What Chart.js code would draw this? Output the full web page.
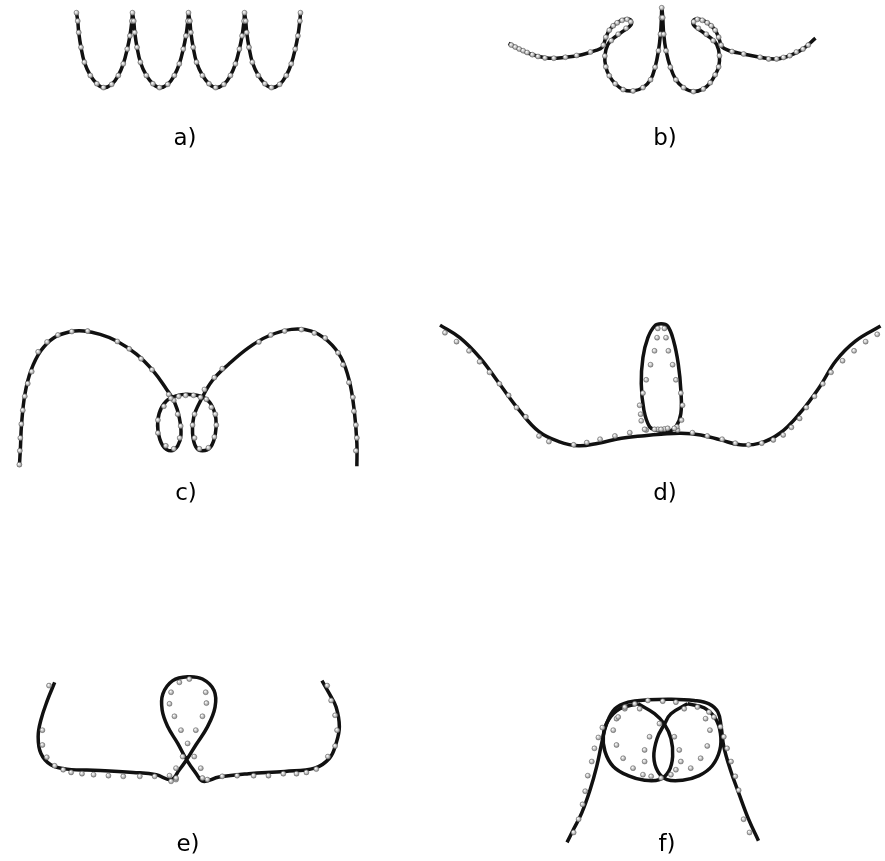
<!DOCTYPE html>
<html>
<head>
<meta charset="utf-8">
<script src="https://cdn.jsdelivr.net/npm/chart.js@4/dist/chart.umd.min.js"></script>
<style>
  html, body { margin: 0; padding: 0; background: #fff; }
  #wrap { position: relative; width: 885px; height: 861px; }
  #plot { position: absolute; left: 0; top: 0; }
  .lbl { position: absolute; width: 100px; text-align: center; font-family: "DejaVu Sans", sans-serif;
         font-size: 23px; line-height: 23px; color: #000; }
</style>
</head>
<body>
<div id="wrap">
  <canvas id="plot" width="885" height="861"></canvas>
</div>
<script>
// Panel labels and where each one sits (centre x, top y)
const panelLabels = ["a)", "b)", "c)", "d)", "e)", "f)"];
const labelX = [185, 665, 186, 665, 188, 667];
const labelY = [125.5, 125.5, 481, 481, 832, 832];

// a) chain of four U-shaped arches
const curveA = [
  [72.7,8.3],[74,16.7],[75,28.3],[77.3,43.3],[80.7,58.3],[86.7,71.7],[93.3,80],[100,84],[108.3,80.7],[115,71.7],[120,60],[124,45],[126.7,31.7],[128.7,16.7],[129.3,8.3],
  [130.6,16.7],[131.6,28.3],[133.9,43.3],[137.3,58.3],[143.3,71.7],[149.9,80],[156.6,84],[164.9,80.7],[171.6,71.7],[176.6,60],[180.6,45],[183.3,31.7],[185.3,16.7],[185.9,8.3],
  [187.3,16.7],[188.3,28.3],[190.6,43.3],[194,58.3],[200,71.7],[206.6,80],[213.3,84],[221.6,80.7],[228.3,71.7],[233.3,60],[237.3,45],[240,31.7],[242,16.7],[242.5,8.3],
  [243.7,16.7],[244.7,28.3],[247,43.3],[250.4,58.3],[256.4,71.7],[263,80],[269.7,84],[278,80.7],[284.7,71.7],[289.7,60],[293.7,45],[296.4,31.7],[298.4,16.7],[299,8.3]
];

// b) two hanging loops with curled side tails
const curveB = [
  [509.3,39.3],[520,45],[533.3,50.7],[550,54.3],[566.7,53.3],[583.3,50.7],[596.7,46.7],[604,43],[607,35],[611,26],[618,19],[626,15],[632.5,15.5],
  [633,20.5],[625,27],[616,33.5],[609.5,40.5],[606.5,52],[607.5,63],[611,72],[617,80],[625,86],[635,87.3],[645,84],[652.7,76],[657.3,63.3],[660.7,46.7],
  [662.7,30],[663.7,13.3],[664,3.3],[665,13.3],[666,30],[668.3,46.7],[672.7,63.3],[678.3,76],[686,84],[696,88],[706,85.3],[713,79],[718,71],[721.5,63],
  [722.3,51.7],[719.5,40.5],[713,33.5],[704,27],[696,20.5],[696.5,15.5],[703,15],[711,19],[718,26],[722,35],[725,43],[733.3,47],[746.7,50],
  [763.3,53.3],[780,55],[793.3,51.7],[806.7,45],[819.3,34]
];
const dotsB = [
  [512,41],[516,43],[520,45],[524,46.7],[528,48.5],[533.3,50.7],[539,52.5],[546,54],[555,54.3],[566.7,53.3],[578,51.5],[592,48],
  [605,41],[607.5,33],[611,26],[615,21.5],[619,18.5],[624,16],[629,15],[632.7,17.5],[628,24],[620,30],[613,36.5],
  [606.5,52],[607.5,63],[611,72],[617,80],[625,86],[635,87.3],[645,84],[652.7,76],[657.3,63.3],[660.7,46.7],[662.7,30],[663.7,13.3],[664,3.3],
  [665,13.3],[666,30],[668.3,46.7],[672.7,63.3],[678.3,76],[686,84],[696,88],[706,85.3],[713,79],[718,71],[721.5,63],[722.3,51.7],
  [716,36.5],[709,30],[701,24],[696.3,17.5],[700,15],[705,16],[710,18.5],[714,21.5],[718,26],[721.5,33],[724,41],
  [735,47.5],[746.7,50],[763.3,53.3],[772,55],[780,55],[787,53.5],[793.3,51.7],[800,48],[806.7,45],[812,41]
];

// c) two wide arches meeting in twin small loops
const curveC = [
  [15,466.7],[16,450],[17.3,423.3],[20.7,393.3],[26.7,370],[36.7,350],[50,336.7],[66.7,330.7],[80,330],[96.7,333.3],[113.3,340],[133.3,353.3],[150,370],
  [163.3,388.3],[171.7,401.7],[176.7,418],[178.3,435],[175,446],[168.3,451],[160,446],[155,430],[156.2,413.3],[163.3,401],[173.3,395.5],[186.7,394],
  [200,396.5],[208.3,403.3],[213.5,418],[213,434],[208.3,447],[200,451],[193.3,447],[190,433.3],[191.2,416.7],[198.3,400],[210,380],[226.7,363.3],
  [246.7,346.7],[266.7,335],[290,328.3],[310,330],[326.7,340],[340,356.7],[348.3,380],[353.3,410],[356,443.3],[356,466.7]
];
const dotsC = [
  [15,465],[15.5,451],[16,438],[17,424],[18.5,410],[20.5,396],[23.5,383],[27.5,371],[34,351],[43,341],[54,334],[68,330.5],[84,330],[114,340.5],[126,348],
  [138,358],[149,369],[166,394],[171,400],[175,414],[178,426],[177,438],[171,449],[163,446],[155,433],[155,420],[161,406],[168,398],[176,396],[183,395],
  [191,395],[198,397],[204,399],[209,407],[213,414],[214,425],[212,437],[206,448],[197,449],[192,438],[190,425],[192,414],[202,389],[212,377],[220,368],
  [257,341],[269,334],[283,330],[300,328.5],[313,332],[324,337],[337,352],[342,364],[348,382],[352,397],[353,411],[355,425],[356,438],[355,451]
];

// d) wavy base line with a tall narrow loop in the middle
const curveD = [
  [440,324],[460,336.7],[480,356.7],[500,383.3],[520,410],[540,431.7],[560,441.7],[580,446],[600,443.3],[623.3,438.3],[646.7,435.7],[663.3,434.3],[683.3,433.3],
  [703.3,435],[723.3,440],[743.3,445],[763.3,443.3],[783.3,433.3],[803.3,413.3],[823.3,386.7],[840,360],[860,340],[885,325]
];
const loopD = [
  [670,432.7],[658,430],[651.7,426.7],[646,410],[643.3,383.3],[645,356.7],[650,336.7],[656.7,325],[663.3,322.7],[670,325],[676,340],[680.7,363.3],[683.3,390],
  [683.3,413.3],[678.3,426.7],[670,432.7]
];
const dotsD = [
  [445,331.7],[456.7,340.7],[469.3,350],[480,361],[490,371.7],[500,383.3],[509.3,395],[517.3,407.3],[526.7,416.7],[540,436],[550,441.7],[575,445],[588.3,442.7],
  [601.7,439.3],[616.7,436],[631.7,432.7],[648.3,430],[660,429.3],[666.7,429],[680,430],[695,432.7],[710,436],[725,439.3],[738.3,443.3],[751.7,445],[765,443.3],
  [776.7,440],[786.7,435],[795,427.3],[803.3,418.3],[810,407.3],[818.3,396],[826.7,383.3],[835,371.7],[846.7,360],[858.3,350],[870,340.7],[881.7,333.3],
  [660,327.3],[659.3,336.7],[656.7,350],[652.7,364],[648.3,379.3],[645,392.7],[641.7,405],[642.7,414],[643.3,420.7],[646.7,429.3],
  [666.7,327.3],[668.3,336.7],[670.7,350],[675,364],[678.3,379.3],[683.3,392.7],[685,405],[684,420],[679.3,426.7],
  [656.7,429.3],[663.3,429.3],[670,428.3],[676.7,428.3]
];

// e) flat tray with raised rims and a crossed loop at its centre
const curveE = [
  [50.7,685],[43.3,703.3],[36.7,723.3],[34,740],[36.7,756.7],[46.7,768.3],[63.3,772.7],[96.7,774],[130,776],[153.3,778.3],[168.3,783.3],[176.7,773.3],
  [184,763.3],[193.3,748.3],[205,730],[212.7,710],[211.7,693.3],[200,681.7],[185,679.3],[170,683.3],[160,696.7],[159.3,713.3],[165,730],[175,746.7],
  [184,763.3],[193.3,776.7],[200.7,785],[216.7,780.7],[246.7,777.3],[283.3,775],[313.3,771.7],[328.3,761.7],[335,746.7],[338.3,730],[335,710],[328.3,696.7],
  [320.7,683.3]
];
const dotsE = [
  [45,688.3],[38.3,733.3],[38.3,748.3],[42.7,760.7],[50.7,769.3],[59.3,773.3],[67.3,776],[78.3,777.3],[90,778.3],[105,779.3],[120,780],[136.7,780],
  [151.7,780],[166.7,779.3],[168.3,785],[173.3,783.3],[205,783.3],[220,780],[235,779.3],[251.7,779.3],[266.7,779.3],[281.7,777.3],[295,777.3],[305,776],
  [315,772.7],[326.7,760],[334,749.3],[336,733.3],[334,718.3],[330,703.3],[326,688.3],
  [176.7,685],[186.7,681.7],[168.3,695],[203.3,695],[166.7,706.7],[204,706],[171.7,719.3],[200,719.3],[178.3,733.3],[193.3,733.3],[185,746.7],
  [180,760],[191.7,760],[173.3,771.7],[198.3,771.7],[173.3,781.7],[200,781.7]
];

// f) arch over two overlapping lobes
const curveF = [
  [568.3,846.7],[575,833.3],[583.3,816.7],[591.7,793.3],[598.3,770],[603.3,746.7],[608.3,726.7],[616.7,711.7],[630,705],[650,702.7],[673.3,702],[696.7,703.3],
  [711.7,706.7],[720.7,715],[724,730],[726.7,750],[733.3,773.3],[741.7,796.7],[751.7,823.3],[761.7,845]
];
const lobeLeftF = [
  [640,706.7],[656.7,716.7],[666.7,727.3],[673.3,741.7],[675,760],[671,775],[661.7,783.3],[646.7,784],[630,779.3],[615,770],[606.7,755],[605,738.3],
  [610,723.3],[621.7,711.7],[640,706.7]
];
const lobeRightF = [
  [690,706.7],[673.3,716.7],[666.7,727.3],[659.3,741.7],[656,760],[660,775],[669.3,783.3],[685,784],[701.7,779.3],[715,769.3],[722.7,753.3],[723.3,736.7],
  [718.3,721.7],[706.7,710.7],[690,706.7]
];
const dotsF = [
  [575,836.7],[580,823.3],[584,808.3],[586.7,795],[589.3,779.3],[593.3,765],[596,751.7],[600,740.7],[604,730.7],[618.3,721.7],[626.7,711.7],[636.7,706.7],
  [650,703.3],[665,704],[678.3,705],[686.7,711.7],[700,710],[711.7,715],[716.7,720],[723.3,730],[726.7,740],[730,751.7],[734,765],[738.3,780],[741.7,794],
  [746.7,823.3],[752.7,836.7],
  [615,733.3],[618.3,748.3],[625,761.7],[635,771.7],[645,778.3],[646.7,753.3],[651.7,740],[646.7,765],[653.3,780],[663.3,781.7],[661.7,726.7],[676.7,740],
  [681.7,753.3],[683.3,765],[678.3,773.3],[673.3,778.3],[693.3,771.7],[703.3,761.7],[710,749.3],[712.7,733.3],[708.3,721.7],[641.7,711.7],[620,720],[626.7,710]
];

const toXY = arr => arr.map(p => ({ x: p[0], y: p[1] }));

// shaded bead: light highlight towards the upper left, darker rim
function beadFill(ctx) {
  const c = ctx.chart, raw = ctx.raw;
  if (!raw || !c.scales || !c.scales.x || !c.scales.y) return '#c8c8c8';
  const px = c.scales.x.getPixelForValue(raw.x);
  const py = c.scales.y.getPixelForValue(raw.y);
  if (!Number.isFinite(px) || !Number.isFinite(py)) return '#c8c8c8';
  const g = c.ctx.createRadialGradient(px - 0.8, py - 0.9, 0.2, px, py, 2.7);
  g.addColorStop(0, '#ffffff');
  g.addColorStop(0.5, '#c6c6c6');
  g.addColorStop(1, '#777777');
  return g;
}

function lineSet(arr) {
  return { type: 'scatter', data: toXY(arr), showLine: true, borderColor: '#111111', borderWidth: 3.5,
           tension: 0.4, pointRadius: 0, fill: false, order: 2 };
}
function dotSet(arr) {
  return { type: 'scatter', data: toXY(arr), showLine: false, pointRadius: 2.5,
           backgroundColor: beadFill, borderColor: '#6a6a6a', borderWidth: 0.5, order: 1 };
}

new Chart(document.getElementById('plot'), {
  type: 'scatter',
  data: {
    datasets: [
      lineSet(curveA), dotSet(curveA),
      lineSet(curveB), dotSet(dotsB),
      lineSet(curveC), dotSet(dotsC),
      lineSet(curveD), lineSet(loopD), dotSet(dotsD),
      lineSet(curveE), dotSet(dotsE),
      lineSet(curveF), lineSet(lobeLeftF), lineSet(lobeRightF), dotSet(dotsF)
    ]
  },
  options: {
    responsive: false,
    animation: false,
    layout: { padding: 0 },
    plugins: { legend: { display: false }, tooltip: { enabled: false } },
    scales: {
      x: { type: 'linear', min: 0, max: 885, display: false },
      y: { type: 'linear', min: 0, max: 861, reverse: true, display: false }
    },
    clip: false
  }
});

// Panel captions
const wrap = document.getElementById('wrap');
panelLabels.forEach((t, i) => {
  const d = document.createElement('div');
  d.className = 'lbl';
  d.textContent = t;
  d.style.left = (labelX[i] - 50) + 'px';
  d.style.top = labelY[i] + 'px';
  wrap.appendChild(d);
});
</script>
</body>
</html>
